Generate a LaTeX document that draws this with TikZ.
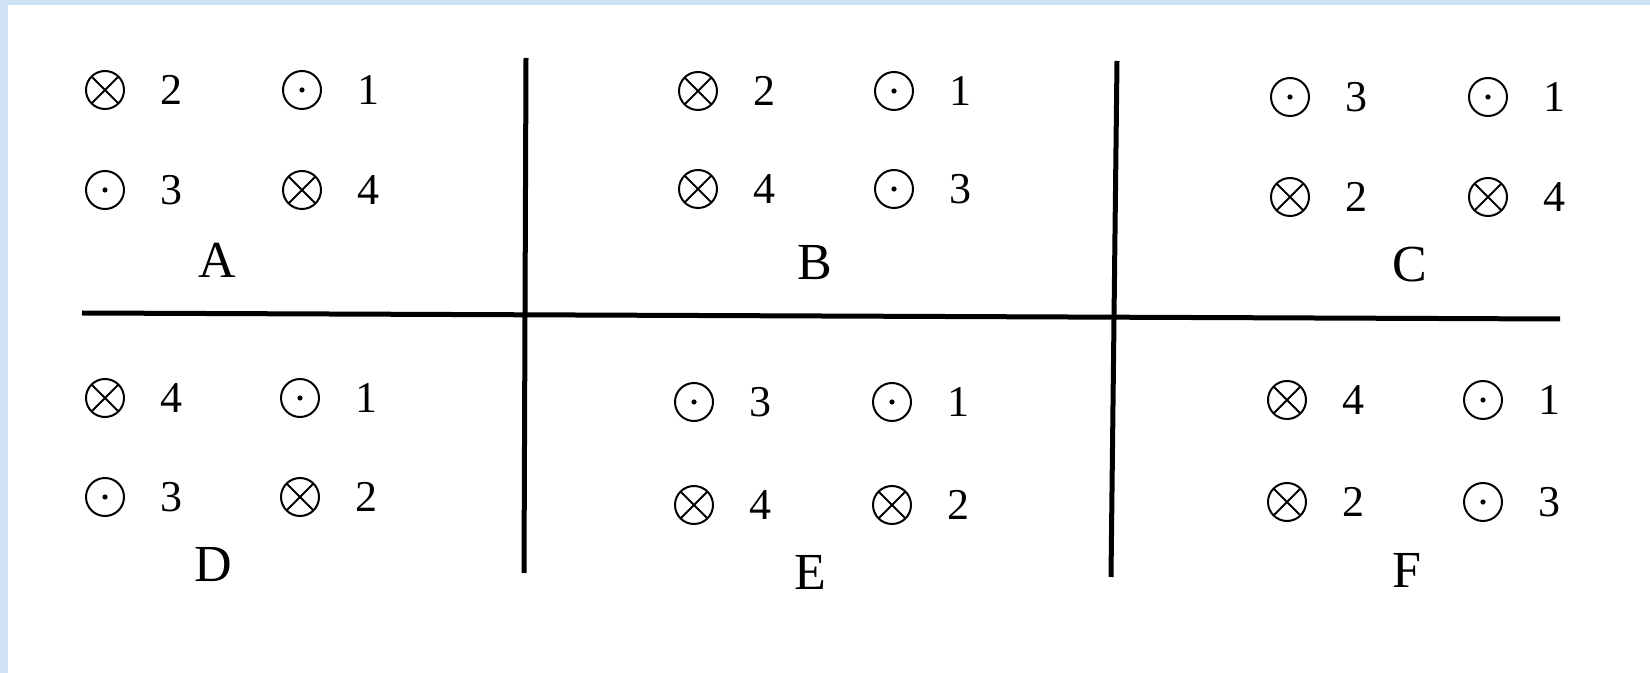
\documentclass[tikz,border=0pt]{standalone}
\usepackage{fontspec}
\setmainfont{Liberation Serif}
\usetikzlibrary{calc}
\definecolor{bgblue}{RGB}{208,226,245}
\tikzset{
  into/.style={circle,draw,line width=1pt,minimum size=19pt,inner sep=0pt,
    path picture={\draw[line width=1pt] (path picture bounding box.north west)--(path picture bounding box.south east)
      (path picture bounding box.north east)--(path picture bounding box.south west);}},
  outof/.style={circle,draw,line width=1pt,minimum size=19pt,inner sep=0pt,
    path picture={\fill (path picture bounding box.center) circle (1.3pt);}},
  num/.style={inner sep=0pt,font=\fontsize{22}{25}\selectfont},
  lab/.style={inner sep=0pt,font=\fontsize{26}{29}\selectfont},
  divider/.style={line width=2.5pt}
}
\newcommand\cellitem[5]{%
  \node[#4] (#1s) at (#2,#3) {};
  \node[num] (#1n) at (#2+66,#3) {#5};
}
\begin{document}
\begin{tikzpicture}[x=0.5pt,y=-0.5pt]
\useasboundingbox (0,0) rectangle (1650,673);
\fill[bgblue] (0,0) rectangle (1650,673);
\fill[white] (8,5) rectangle (1650,673);
% A
\cellitem{a1}{105}{90}{into}{2}
\cellitem{a2}{302}{90}{outof}{1}
\cellitem{a3}{105}{190}{outof}{3}
\cellitem{a4}{302}{190}{into}{4}
\node[lab] (A) at (217,260) {A};
% B
\cellitem{b1}{698}{91}{into}{2}
\cellitem{b2}{894}{91}{outof}{1}
\cellitem{b3}{698}{189}{into}{4}
\cellitem{b4}{894}{189}{outof}{3}
\node[lab] (B) at (815,263) {B};
% C
\cellitem{c1}{1290}{97}{outof}{3}
\cellitem{c2}{1488}{97}{outof}{1}
\cellitem{c3}{1290}{197}{into}{2}
\cellitem{c4}{1488}{197}{into}{4}
\node[lab] (C) at (1410,265) {C};
% D
\cellitem{d1}{105}{398}{into}{4}
\cellitem{d2}{300}{398}{outof}{1}
\cellitem{d3}{105}{497}{outof}{3}
\cellitem{d4}{300}{497}{into}{2}
\node[lab] (D) at (213,565) {D};
% E
\cellitem{e1}{694}{402}{outof}{3}
\cellitem{e2}{892}{402}{outof}{1}
\cellitem{e3}{694}{505}{into}{4}
\cellitem{e4}{892}{505}{into}{2}
\node[lab] (E) at (810,572) {E};
% F
\cellitem{f1}{1287}{400}{into}{4}
\cellitem{f2}{1483}{400}{outof}{1}
\cellitem{f3}{1287}{502}{into}{2}
\cellitem{f4}{1483}{502}{outof}{3}
\node[lab] (F) at (1407,570) {F};
% dividers
\coordinate (hl) at (82,313);
\coordinate (hr) at (1560,319);
\coordinate (v1t) at (526,58);
\coordinate (v1b) at (524,573);
\coordinate (v2t) at (1117,61);
\coordinate (v2b) at (1111,577);
\draw[divider] (hl) -- (hr);
\draw[divider] (v1t) -- (v1b);
\draw[divider] (v2t) -- (v2b);
\end{tikzpicture}
\end{document}
